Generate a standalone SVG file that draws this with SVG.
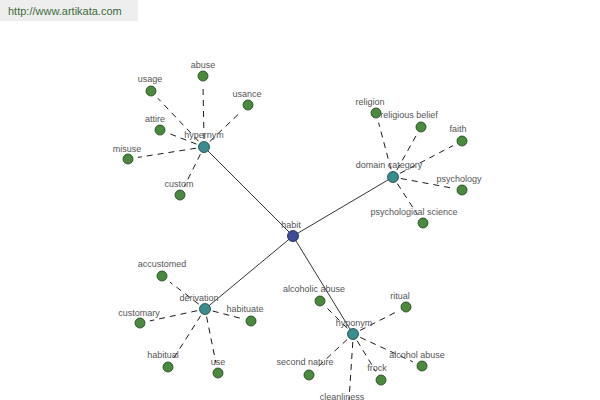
<svg xmlns="http://www.w3.org/2000/svg" width="600" height="400" viewBox="0 0 600 400">
<style>
.bg{fill:#ffffff}
.hdr{fill:#eeeeee}
.hdrt{font-family:"Liberation Sans",Arial,sans-serif;font-size:11px;fill:#3d6b3d}
.lbl{font-family:"Liberation Sans",Arial,sans-serif;font-size:9px;fill:#555555;text-anchor:middle}
.solid{stroke:#000000;stroke-width:0.8;fill:none}
.dash{stroke:#000000;stroke-width:0.9;fill:none;stroke-dasharray:6,5}
.leaf{fill:#4b8a3e;stroke:#1e3d1a;stroke-width:0.8}
.hub{fill:#3b8c8c;stroke:#1a3d3d;stroke-width:0.8}
.root{fill:#3c4b9a;stroke:#151f4a;stroke-width:0.8}
</style>
<rect class="bg" x="0" y="0" width="600" height="400"/>
<rect class="hdr" x="0" y="0" width="138" height="21"/>
<text class="hdrt" x="8" y="15">http://www.artikata.com</text>
<g id="connectors">
<line class="solid" x1="293" y1="236" x2="204" y2="147"/>
<line class="solid" x1="293" y1="236" x2="393" y2="177"/>
<line class="solid" x1="293" y1="236" x2="205" y2="309"/>
<line class="solid" x1="293" y1="236" x2="353" y2="334"/>
<line class="dash" x1="204" y1="139" x2="203" y2="86"/>
<line class="dash" x1="198.5" y1="141.2" x2="157.9" y2="98.3"/>
<line class="dash" x1="209.8" y1="141.5" x2="240.8" y2="111.9"/>
<line class="dash" x1="196.5" y1="144.1" x2="169.3" y2="133.6"/>
<line class="dash" x1="196.1" y1="148.2" x2="137.9" y2="157.4"/>
<line class="dash" x1="200.4" y1="154.2" x2="184.5" y2="186.1"/>
<line class="dash" x1="391" y1="169.3" x2="378.6" y2="122.7"/>
<line class="dash" x1="396.9" y1="170" x2="416.1" y2="135.7"/>
<line class="dash" x1="400.1" y1="173.3" x2="453.1" y2="145.6"/>
<line class="dash" x1="400.9" y1="178.5" x2="452.2" y2="188.1"/>
<line class="dash" x1="397.4" y1="183.7" x2="417.5" y2="214.6"/>
<line class="dash" x1="198.7" y1="304.1" x2="169.9" y2="282.1"/>
<line class="dash" x1="197.2" y1="310.7" x2="149.8" y2="320.9"/>
<line class="dash" x1="212.7" y1="311" x2="241.3" y2="318.5"/>
<line class="dash" x1="200.7" y1="315.7" x2="173.4" y2="358.6"/>
<line class="dash" x1="206.6" y1="316.8" x2="216" y2="363.2"/>
<line class="dash" x1="347.3" y1="328.3" x2="327.1" y2="308.1"/>
<line class="dash" x1="360.1" y1="330.4" x2="397.1" y2="311.5"/>
<line class="dash" x1="347.1" y1="339.5" x2="316.3" y2="368.2"/>
<line class="dash" x1="357.2" y1="340.8" x2="375.8" y2="371.5"/>
<line class="dash" x1="360.3" y1="337.4" x2="412.9" y2="361.8"/>
<line class="dash" x1="352.8" y1="342" x2="349" y2="400"/>
</g>
<g id="n-habit"><circle class="root" cx="293" cy="236" r="5.5"/><text class="lbl" x="291" y="228">habit</text></g>
<g id="n-hypernym"><circle class="hub" cx="204" cy="147" r="5.5"/><text class="lbl" x="204" y="138">hypernym</text></g>
<g id="n-domain"><circle class="hub" cx="393" cy="177" r="5.5"/><text class="lbl" x="389" y="168">domain category</text></g>
<g id="n-derivation"><circle class="hub" cx="205" cy="309" r="5.5"/><text class="lbl" x="199" y="301">derivation</text></g>
<g id="n-hyponym"><circle class="hub" cx="353" cy="334" r="5.5"/><text class="lbl" x="354" y="326">hyponym</text></g>
<g id="n-abuse"><circle class="leaf" cx="203" cy="76" r="5"/><text class="lbl" x="203" y="68">abuse</text></g>
<g id="n-usage"><circle class="leaf" cx="151" cy="91" r="5"/><text class="lbl" x="150" y="82">usage</text></g>
<g id="n-usance"><circle class="leaf" cx="248" cy="105" r="5"/><text class="lbl" x="247" y="97">usance</text></g>
<g id="n-attire"><circle class="leaf" cx="160" cy="130" r="5"/><text class="lbl" x="155" y="122">attire</text></g>
<g id="n-misuse"><circle class="leaf" cx="128" cy="159" r="5"/><text class="lbl" x="127" y="152">misuse</text></g>
<g id="n-custom"><circle class="leaf" cx="180" cy="195" r="5"/><text class="lbl" x="179" y="187">custom</text></g>
<g id="n-religion"><circle class="leaf" cx="376" cy="113" r="5"/><text class="lbl" x="370" y="105">religion</text></g>
<g id="n-religious-belief"><circle class="leaf" cx="421" cy="127" r="5"/><text class="lbl" x="409" y="118">religious belief</text></g>
<g id="n-faith"><circle class="leaf" cx="462" cy="141" r="5"/><text class="lbl" x="458" y="132">faith</text></g>
<g id="n-psychology"><circle class="leaf" cx="462" cy="190" r="5"/><text class="lbl" x="459" y="182">psychology</text></g>
<g id="n-psych-science"><circle class="leaf" cx="423" cy="223" r="5"/><text class="lbl" x="414" y="215">psychological science</text></g>
<g id="n-accustomed"><circle class="leaf" cx="162" cy="276" r="5"/><text class="lbl" x="162" y="267">accustomed</text></g>
<g id="n-customary"><circle class="leaf" cx="140" cy="323" r="5"/><text class="lbl" x="139" y="316">customary</text></g>
<g id="n-habituate"><circle class="leaf" cx="251" cy="321" r="5"/><text class="lbl" x="245" y="312">habituate</text></g>
<g id="n-habitual"><circle class="leaf" cx="168" cy="367" r="5"/><text class="lbl" x="163" y="358">habitual</text></g>
<g id="n-use"><circle class="leaf" cx="218" cy="373" r="5"/><text class="lbl" x="218" y="365">use</text></g>
<g id="n-alcoholic-abuse"><circle class="leaf" cx="320" cy="301" r="5"/><text class="lbl" x="314" y="292">alcoholic abuse</text></g>
<g id="n-ritual"><circle class="leaf" cx="406" cy="307" r="5"/><text class="lbl" x="400" y="299">ritual</text></g>
<g id="n-second-nature"><circle class="leaf" cx="309" cy="375" r="5"/><text class="lbl" x="305" y="365">second nature</text></g>
<g id="n-frock"><circle class="leaf" cx="381" cy="380" r="5"/><text class="lbl" x="377" y="371">frock</text></g>
<g id="n-alcohol-abuse"><circle class="leaf" cx="422" cy="366" r="5"/><text class="lbl" x="417" y="358">alcohol abuse</text></g>
<g id="n-cleanliness"><circle class="leaf" cx="348" cy="410" r="5"/><text class="lbl" x="342" y="400">cleanliness</text></g>
</svg>
